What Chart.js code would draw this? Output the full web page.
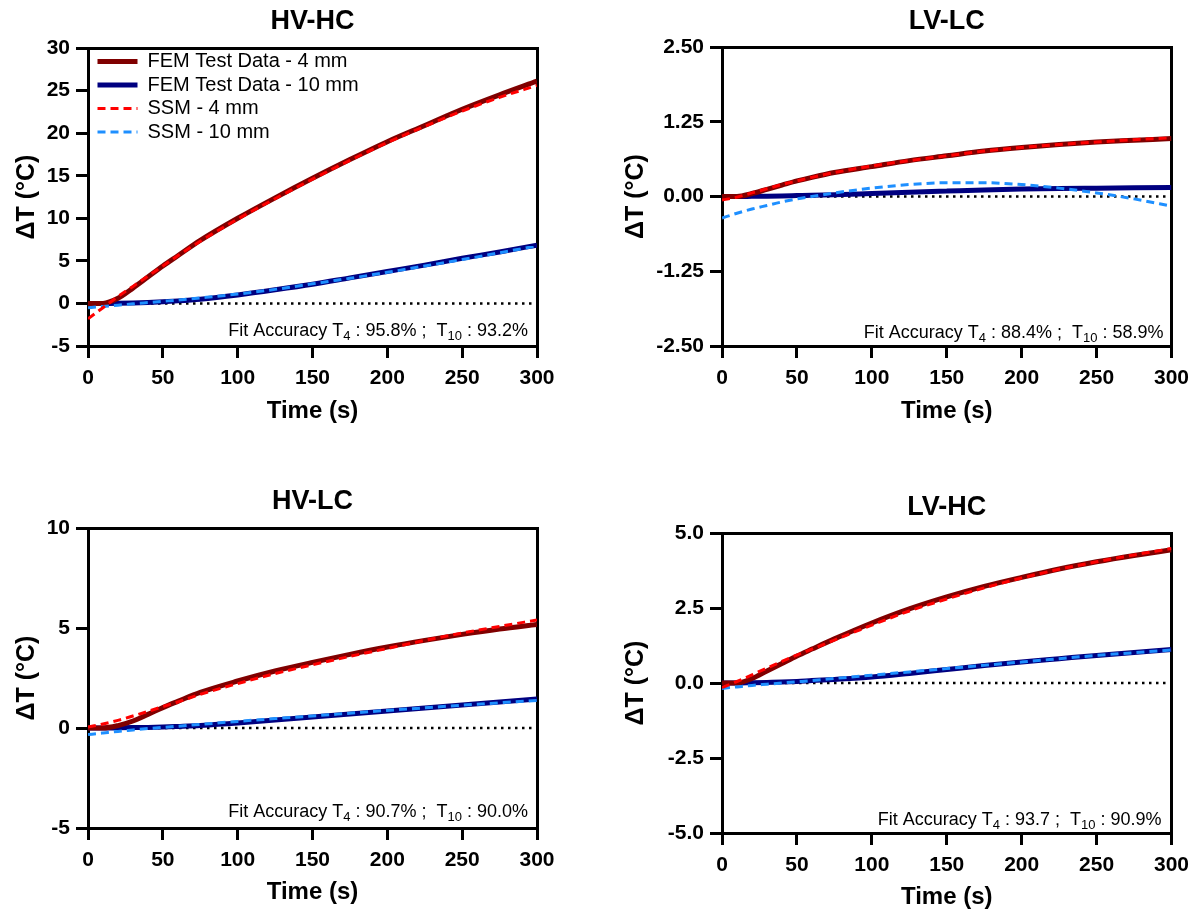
<!DOCTYPE html>
<html><head><meta charset="utf-8">
<script src="https://cdn.jsdelivr.net/npm/chart.js@4/dist/chart.umd.min.js"></script>
<style>
html,body{margin:0;padding:0;background:#fff;}
#wrap{position:relative;width:1197px;height:915px;overflow:hidden;}
canvas{position:absolute;}
</style></head><body>
<div id="wrap">
<canvas id="c1" width="598" height="457" style="left:0;top:0"></canvas>
<canvas id="c2" width="599" height="457" style="left:598px;top:0"></canvas>
<canvas id="c3" width="598" height="458" style="left:0;top:457px"></canvas>
<canvas id="c4" width="599" height="458" style="left:598px;top:457px"></canvas>
</div>
<script>
// ---------- data ----------
const time = [0,10,20,30,40,50,60,75,100,125,150,175,200,225,250,275,300];
const xTicks = [0,50,100,150,200,250,300];
const xTickLabels = ['0','50','100','150','200','250','300'];
const seriesNames = ['FEM Test Data - 4 mm','FEM Test Data - 10 mm','SSM - 4 mm','SSM - 10 mm'];
const titles = ['HV-HC','LV-LC','HV-LC','LV-HC'];
const fitT4 = ['95.8%','88.4%','90.7%','93.7'];
const fitT10 = ['93.2%','58.9%','90.0%','90.9%'];

// HV-HC
const hvhcFem4  = [0,0,0.6,1.8,3.1,4.4,5.6,7.4,10.0,12.4,14.7,16.9,19.0,20.9,22.8,24.5,26.1];
const hvhcFem10 = [0,0,0.02,0.06,0.12,0.2,0.3,0.5,1.0,1.6,2.25,3.0,3.75,4.5,5.3,6.05,6.85];
const hvhcSsm4  = [-1.8,-0.5,0.8,2.0,3.2,4.4,5.6,7.3,9.9,12.3,14.6,16.8,18.9,20.8,22.6,24.2,25.6];
const hvhcSsm10 = [-0.5,-0.35,-0.2,-0.05,0.1,0.25,0.4,0.65,1.1,1.65,2.3,2.95,3.65,4.4,5.15,5.95,6.75];
// LV-LC
const lvlcFem4  = [0,0,0.05,0.12,0.19,0.26,0.32,0.4,0.5,0.6,0.68,0.76,0.82,0.87,0.91,0.94,0.97];
const lvlcFem10 = [0,0,0.003,0.006,0.01,0.015,0.02,0.03,0.05,0.07,0.09,0.11,0.125,0.135,0.14,0.145,0.15];
const lvlcSsm4  = [-0.06,-0.01,0.06,0.13,0.2,0.26,0.32,0.4,0.51,0.6,0.68,0.76,0.82,0.87,0.91,0.95,0.98];
const lvlcSsm10 = [-0.36,-0.28,-0.21,-0.15,-0.09,-0.04,0.0,0.06,0.14,0.2,0.23,0.23,0.2,0.14,0.06,-0.04,-0.16];
// HV-LC
const hvlcFem4  = [0,0,0.12,0.35,0.68,1.02,1.33,1.78,2.35,2.85,3.28,3.68,4.05,4.38,4.68,4.95,5.18];
const hvlcFem10 = [0,0,0.01,0.02,0.03,0.05,0.08,0.13,0.25,0.4,0.55,0.7,0.85,1.0,1.15,1.3,1.45];
const hvlcSsm4  = [0.05,0.2,0.38,0.6,0.83,1.07,1.3,1.68,2.22,2.72,3.16,3.58,3.98,4.38,4.75,5.08,5.4];
const hvlcSsm10 = [-0.33,-0.25,-0.17,-0.1,-0.03,0.03,0.09,0.18,0.33,0.47,0.6,0.74,0.88,1.01,1.14,1.26,1.38];
// LV-HC
const lvhcFem4  = [0,0,0.15,0.4,0.65,0.9,1.13,1.47,2.0,2.47,2.87,3.22,3.52,3.8,4.04,4.25,4.44];
const lvhcFem10 = [0,0,0.01,0.02,0.03,0.05,0.08,0.12,0.2,0.32,0.45,0.58,0.7,0.81,0.92,1.02,1.12];
const lvhcSsm4  = [-0.15,0.05,0.27,0.5,0.72,0.93,1.13,1.43,1.93,2.4,2.8,3.17,3.5,3.79,4.04,4.27,4.48];
const lvhcSsm10 = [-0.18,-0.13,-0.08,-0.04,0.0,0.04,0.08,0.15,0.26,0.37,0.48,0.59,0.7,0.81,0.92,1.01,1.1];

// y ticks
const yTicksHVHC = [-5,0,5,10,15,20,25,30];
const yLabelsHVHC = ['-5','0','5','10','15','20','25','30'];
const yTicksLVLC = [-2.5,-1.25,0,1.25,2.5];
const yLabelsLVLC = ['-2.50','-1.25','0.00','1.25','2.50'];
const yTicksHVLC = [-5,0,5,10];
const yLabelsHVLC = ['-5','0','5','10'];
const yTicksLVHC = [-5,-2.5,0,2.5,5];
const yLabelsLVHC = ['-5.0','-2.5','0.0','2.5','5.0'];

// ---------- styling / layout ----------
const FONT = "'Liberation Sans', Arial, Helvetica, sans-serif";
Chart.defaults.font.family = FONT;
Chart.defaults.color = '#000';
const COLORS = ['#800000','#000080','#ff0000','#1e8fff'];

const panels = [
  {id:'c1', title:titles[0], series:[hvhcFem4,hvhcFem10,hvhcSsm4,hvhcSsm10], yT:yTicksHVHC, yL:yLabelsHVHC, legend:true,  note:0,
   lay:{yW:88, padR:61, tTop:5.8, tBot:9.8, yTitle:12.6, xH:111, xTitleB:31.6, dx:9, dy:10}},
  {id:'c2', title:titles[1], series:[lvlcFem4,lvlcFem10,lvlcSsm4,lvlcSsm10], yT:yTicksLVLC, yL:yLabelsLVLC, legend:false, note:1,
   lay:{yW:124, padR:25, tTop:5.8, tBot:8.8, yTitle:24.1, xH:111, xTitleB:31.6, dx:8, dy:8}},
  {id:'c3', title:titles[2], series:[hvlcFem4,hvlcFem10,hvlcSsm4,hvlcSsm10], yT:yTicksHVLC, yL:yLabelsHVLC, legend:false, note:2,
   lay:{yW:88, padR:61, tTop:28.8, tBot:9.8, yTitle:12.6, xH:87, xTitleB:8.1, dx:9, dy:11}},
  {id:'c4', title:titles[3], series:[lvhcFem4,lvhcFem10,lvhcSsm4,lvhcSsm10], yT:yTicksLVHC, yL:yLabelsLVHC, legend:false, note:3,
   lay:{yW:124, padR:25, tTop:34.8, tBot:8.8, yTitle:24.1, xH:82, xTitleB:3.6, dx:10, dy:8}}
];

function notePlugin(i, lay){
  const parts = [
    {t:'Fit Accuracy T', s:false},{t:'4', s:true},
    {t:' : ' + fitT4[i] + ' ;  T', s:false},{t:'10', s:true},
    {t:' : ' + fitT10[i], s:false}
  ];
  return {
    id:'fitNote'+i,
    afterDatasetsDraw(chart){
      const ctx = chart.ctx, a = chart.chartArea;
      const main = '18px ' + FONT, sub = '13px ' + FONT;
      ctx.save();
      let total = 0;
      parts.forEach(p => { ctx.font = p.s ? sub : main; total += ctx.measureText(p.t).width; });
      let x = a.right - lay.dx - total;
      const y = a.bottom - lay.dy;
      ctx.fillStyle = '#000'; ctx.textAlign = 'left'; ctx.textBaseline = 'alphabetic';
      parts.forEach(p => { ctx.font = p.s ? sub : main; ctx.fillText(p.t, x, p.s ? y + 4 : y); x += ctx.measureText(p.t).width; });
      ctx.restore();
    }
  };
}
const legendFix = {
  id:'legendFix',
  afterLayout(chart){
    const lg = chart.legend;
    if (!lg || !lg.options.display) return;
    const a = chart.chartArea;
    lg.left = a.left + 6; lg.top = a.top;
    lg.right = lg.left + lg.width; lg.bottom = a.top + lg.height;
  }
};
function legendLabels(chart){
  const base = Chart.defaults.plugins.legend.labels.generateLabels(chart);
  return base.map(it => {
    const ds = chart.data.datasets[it.datasetIndex];
    it.lineDash = ds.borderDash || [];
    it.lineWidth = ds.borderWidth;
    it.strokeStyle = ds.borderColor;
    return it;
  });
}

panels.forEach((p) => {
  const L = p.lay;
  const datasets = p.series.map((vals, k) => ({
    label: seriesNames[k],
    data: time.map((t, j) => ({x:t, y:vals[j]})),
    borderColor: COLORS[k],
    backgroundColor: COLORS[k],
    borderWidth: k < 2 ? 5 : 3,
    borderDash: k < 2 ? [] : [8,5],
    pointRadius: 0,
    cubicInterpolationMode: 'monotone',
    fill: false,
    order: k < 2 ? 2 : 1
  }));
  datasets.push({
    label: '',
    data: [{x:xTicks[0], y:0},{x:xTicks[xTicks.length-1], y:0}],
    borderColor:'#000', borderWidth:2.5, borderDash:[2.5,4.5],
    pointRadius:0, fill:false, order:3
  });
  new Chart(document.getElementById(p.id), {
    type:'line',
    data:{datasets},
    plugins:[notePlugin(p.note, L), legendFix],
    options:{
      responsive:false, maintainAspectRatio:false, animation:false, devicePixelRatio:1, events:[],
      layout:{padding:{left:0, right:L.padR, top:0, bottom:0}},
      plugins:{
        title:{display:true, text:p.title, fullSize:false, color:'#000',
               font:{size:27, weight:'bold', family:FONT, lineHeight:1.2},
               padding:{top:L.tTop, bottom:L.tBot}},
        legend:{display:p.legend, position:'chartArea', align:'start',
          labels:{usePointStyle:true, pointStyle:'line', pointStyleWidth:40, color:'#000',
                  font:{size:20, family:FONT}, padding:3.5,
                  generateLabels: legendLabels,
                  filter:(it) => it.text !== '',
                  sort:(a,b) => a.datasetIndex - b.datasetIndex}},
        tooltip:{enabled:false}
      },
      scales:{
        x:{type:'linear', position:'bottom', min:xTicks[0], max:xTicks[xTicks.length-1],
           afterBuildTicks:(s) => { s.ticks = xTicks.map(v => ({value:v})); },
           afterFit:(s) => { s.height = L.xH; },
           ticks:{callback:(v,i) => xTickLabels[i], autoSkip:false, maxRotation:0, padding:8,
                  font:{size:21, weight:'bold', family:FONT}, color:'#000'},
           grid:{drawOnChartArea:false, drawTicks:true, tickLength:12, lineWidth:3, color:'#000'},
           border:{display:true, color:'#000', width:3},
           title:{display:true, text:'Time (s)', color:'#000', font:{size:24, weight:'bold', family:FONT, lineHeight:1.2},
                  padding:{top:0, bottom:L.xTitleB}}},
        y:{type:'linear', position:'left', min:p.yT[0], max:p.yT[p.yT.length-1],
           afterBuildTicks:(s) => { s.ticks = p.yT.map(v => ({value:v})); },
           afterFit:(s) => { s.width = L.yW; },
           ticks:{callback:(v,i) => p.yL[i], autoSkip:false, padding:6,
                  font:{size:21, weight:'bold', family:FONT}, color:'#000'},
           grid:{drawOnChartArea:false, drawTicks:true, tickLength:12, lineWidth:3, color:'#000'},
           border:{display:true, color:'#000', width:3},
           title:{display:true, text:'ΔT (°C)', color:'#000', font:{size:25, weight:'bold', family:FONT, lineHeight:1.2},
                  padding:{top:L.yTitle - 0.6, bottom:0}}},
        x2:{type:'linear', position:'top', min:xTicks[0], max:xTicks[xTicks.length-1],
            afterFit:(s) => { s.height = 0; },
            ticks:{display:false}, grid:{drawOnChartArea:false, drawTicks:false, color:'#000', lineWidth:3},
            border:{display:true, color:'#000', width:3}},
        y2:{type:'linear', position:'right', min:p.yT[0], max:p.yT[p.yT.length-1],
            afterFit:(s) => { s.width = 0; },
            ticks:{display:false}, grid:{drawOnChartArea:false, drawTicks:false, color:'#000', lineWidth:3},
            border:{display:true, color:'#000', width:3}}
      }
    }
  });
});
</script>
</body></html>
